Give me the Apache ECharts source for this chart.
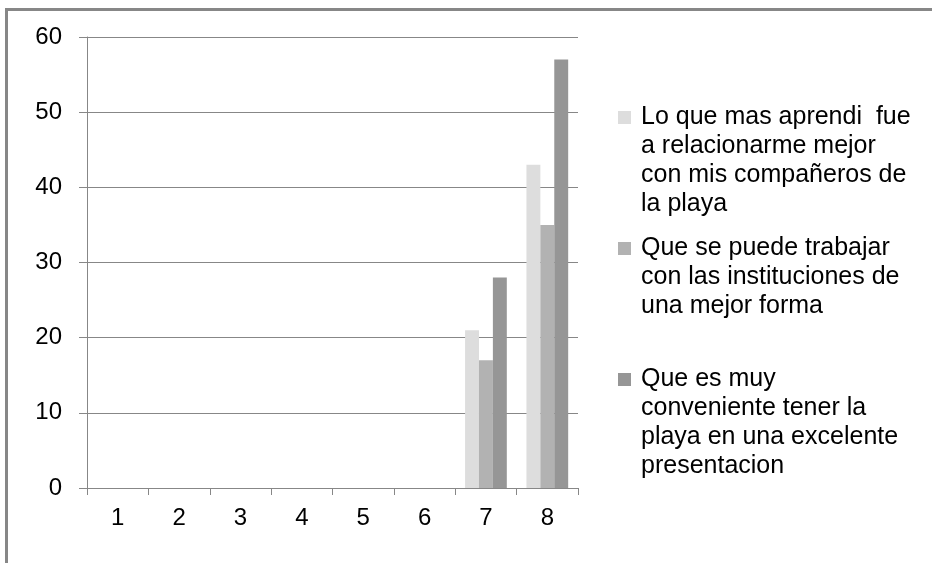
<!DOCTYPE html>
<html>
<head>
<meta charset="utf-8">
<script src="https://cdn.jsdelivr.net/npm/echarts@6/dist/echarts.min.js"></script>
<style>
html,body{margin:0;padding:0;background:#fff;}
#chart{width:932px;height:563px;}
</style>
</head>
<body>
<div id="chart"></div>
<script>
var categories = ['1', '2', '3', '4', '5', '6', '7', '8'];
var seriesNames = [
  'Lo que mas aprendi  fue a relacionarme mejor con mis compañeros de la playa',
  'Que se puede trabajar con las instituciones de una mejor forma',
  'Que es muy conveniente tener la playa en una excelente presentacion'
];
var legendLines = [
  ['Lo que mas aprendi  fue', 'a relacionarme mejor', 'con mis compañeros de', 'la playa'],
  ['Que se puede trabajar', 'con las instituciones de', 'una mejor forma'],
  ['Que es muy', 'conveniente tener la', 'playa en una excelente', 'presentacion']
];
var valuesA = [null, null, null, null, null, null, 21, 43];
var valuesB = [null, null, null, null, null, null, 17, 35];
var valuesC = [null, null, null, null, null, null, 28, 57];
var yTicks = { min: 0, max: 60, interval: 10 };

var colors = ['#dddddd', '#b2b2b2', '#969696'];
var FONT = 'Liberation Sans, Arial, sans-serif';
var LH = 29;
var legendTops = [103, 234, 365];

function iconPath(n) {
  var h = n * LH;
  return 'path://M0,0L0.001,0M0,8h13v13h-13zM0,' + h + 'L0.001,' + h;
}

var chart = echarts.init(document.getElementById('chart'), null, { renderer: 'canvas' });

var legends = seriesNames.map(function (name, i) {
  var n = legendLines[i].length;
  return {
    data: [{ name: name, icon: iconPath(n) }],
    left: 618,
    top: legendTops[i],
    padding: 0,
    orient: 'vertical',
    itemWidth: 13,
    itemHeight: n * LH,
    selectedMode: false,
    formatter: function () { return legendLines[i].join('\n'); },
    textStyle: {
      fontFamily: FONT,
      fontSize: 25,
      lineHeight: LH,
      color: '#000',
      padding: [0, 0, 0, 5]
    }
  };
});

var mkSeries = function (name, data, color) {
  return {
    name: name,
    type: 'bar',
    data: data,
    barGap: '0%',
    barCategoryGap: '32%',
    itemStyle: { color: color },
    emphasis: { disabled: true }
  };
};

chart.setOption({
  animation: false,
  backgroundColor: '#fff',
  color: colors,
  graphic: [{
    type: 'rect',
    shape: { x: 6.5, y: 9.5, width: 1200, height: 1200 },
    style: { fill: 'none', stroke: '#878787', lineWidth: 3 },
    silent: true,
    z: 100
  }],
  legend: legends,
  grid: { left: 87, right: 354, top: 37, bottom: 75, containLabel: false },
  xAxis: {
    type: 'category',
    data: categories,
    axisLine: { show: true, lineStyle: { color: '#878787', width: 1 } },
    axisTick: { show: true, alignWithLabel: false, length: 7, lineStyle: { color: '#878787' } },
    axisLabel: { fontFamily: FONT, fontSize: 24, color: '#000', margin: 18 },
    splitLine: { show: false }
  },
  yAxis: {
    type: 'value',
    min: yTicks.min,
    max: yTicks.max,
    interval: yTicks.interval,
    axisLine: { show: true, lineStyle: { color: '#878787', width: 1 } },
    axisTick: { show: true, inside: false, length: 8, lineStyle: { color: '#878787' } },
    axisLabel: { fontFamily: FONT, fontSize: 24, color: '#000', margin: 25 },
    splitLine: { show: true, lineStyle: { color: '#878787', width: 1 } }
  },
  series: [
    mkSeries(seriesNames[0], valuesA, colors[0]),
    mkSeries(seriesNames[1], valuesB, colors[1]),
    mkSeries(seriesNames[2], valuesC, colors[2])
  ]
});
</script>
</body>
</html>
